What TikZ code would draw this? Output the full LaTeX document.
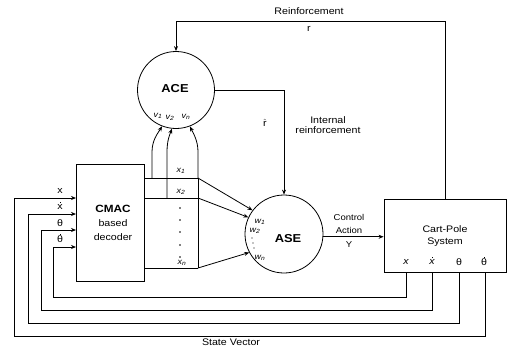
\documentclass[tikz,border=0pt]{standalone}
\usepackage{fontspec}
\setmainfont{Liberation Sans}[FakeStretch=1.12]
\usetikzlibrary{arrows.meta}
\newcommand\mydt[1]{\setbox0\hbox{#1}\hbox to \wd0{\hfil\raisebox{\dimexpr\ht0+1pt\relax}{\rule{1pt}{1pt}}\hfil}\kern-\wd0\box0}
\begin{document}
\begin{tikzpicture}[x=1pt,y=-1pt,line width=0.8pt,
  arr/.style={-{Stealth[length=5pt,width=4pt]}},
  lbl/.style={font=\fontsize{9.5}{11}\selectfont, inner sep=0pt, align=center},
  sml/.style={font=\fontsize{8.5}{13}\selectfont, inner sep=0pt, align=center},
  sub/.style={font=\fontsize{8}{9}\selectfont\itshape, inner sep=0pt},
  big/.style={font=\bfseries\fontsize{11.5}{12}\selectfont, inner sep=0pt},
  blk/.style={draw, inner sep=0pt},
  dotc/.style={fill, circle, inner sep=0pt, minimum size=1.6pt}]
\useasboundingbox (0,0) rectangle (508,348);

% main blocks
\node[blk, circle, minimum size=77pt] (ACE) at (176,90) {};
\node[big] (acet) at (175,89) {ACE};
\node[blk, circle, minimum size=78pt] (ASE) at (284,234) {};
\node[big] (aset) at (288,239) {ASE};
\node[blk, minimum width=68pt, minimum height=117pt] (dec) at (110,222.5) {};
\node[lbl, font=\fontsize{9.5}{14}\selectfont] (dect) at (113,223) {\textbf{\fontsize{10.5}{14}\selectfont CMAC}\\based\\decoder};
\node[blk, minimum width=122pt, minimum height=73pt] (cart) at (445,235.5) {};
\node[lbl, font=\fontsize{9.5}{12}\selectfont] (cartt) at (445,236) {Cart-Pole\\System};

% coordinates
\coordinate (rt) at (0,21);
\coordinate (in1) at (76,198);
\coordinate (in2) at (76,214);
\coordinate (in3) at (76,230);
\coordinate (in4) at (76,247);
\coordinate (o1) at (406,272);
\coordinate (o2) at (432,272);
\coordinate (o3) at (459,272);
\coordinate (o4) at (485,272);
\coordinate (c1) at (198,178);
\coordinate (c2) at (198,198);
\coordinate (cn) at (198,268);
\coordinate (a1) at (152,178);
\coordinate (a2) at (167,198);

% reinforcement
\draw[arr] (cart.north) -- (cart.north |- rt) -- (ACE.north |- rt) -- (ACE.north);
\node[lbl] (rein) at (309,11) {Reinforcement};
\node[lbl] (r) at (309,29) {r};

% internal reinforcement
\draw[arr] (ACE.east) -| (ASE.north);
\node[lbl] (rhat) at (265,123) {$\hat{\mbox{r}}$};
\node[lbl, font=\fontsize{9.5}{10.5}\selectfont] (intr) at (328,125) {Internal\\reinforcement};

% control action
\draw[arr] (ASE.-4) -- (ASE.-4 -| cart.west);
\node[sml] (ctl) at (349,223.5) {Control\\Action};
\node[sml] (yy) at (349,245) {Y};

% decoder outputs
\draw (dec.east |- c1) -- (c1);
\draw (dec.east |- c2) -- (c2);
\draw (dec.east |- cn) -- (cn);
\draw (c1) -- (cn);
\draw[arr] (c1) -- (ASE.143);
\draw[arr] (c2) -- (ASE.155);
\draw[arr] (cn) -- (ASE.208);
\foreach \yy in {208,220,232,245,257} \node[dotc] at (180,\yy) {};
\node[sub] (x1) at (181,171) {x\textsubscript{1}};
\node[sub] (x2) at (181,192) {x\textsubscript{2}};
\node[sub] (xn) at (182,263) {x\textsubscript{n}};

% into ACE
\draw[arr] (a1) -- (152,152) .. controls (152,140) and (158,133) .. (ACE.249);
\draw[arr] (a2) -- (167,152) .. controls (167,140) and (170,134) .. (ACE.264);
\draw[arr] (c1) -- (198,152) .. controls (198,140) and (193,133) .. (ACE.291);
\node[sub] (v1) at (158,116) {v\textsubscript{1}};
\node[sub] (v2) at (170,118) {v\textsubscript{2}};
\node[sub] (vn) at (186,117) {v\textsubscript{n}};

% weights
\node[sub] (w1) at (260,222) {w\textsubscript{1}};
\node[sub] (w2) at (255,231) {w\textsubscript{2}};
\foreach \p in {(252,238),(253,243),(254,248)} \node[dotc, minimum size=1.3pt] at \p {};
\node[sub] (wn) at (260,258) {w\textsubscript{n}};

% state feedback loops
\draw[arr] (o4) -- (485,336) -- (14,336) -- (14,198) -- (in1);
\draw[arr] (o3) -- (459,323) -- (28,323) -- (28,214) -- (in2);
\draw[arr] (o2) -- (432,310) -- (41,310) -- (41,230) -- (in3);
\draw[arr] (o1) -- (406,297) -- (53,297) -- (53,247) -- (in4);
\node[lbl] (lx) at (60,191) {x};
\node[lbl] (lxd) at (60,206) {\mydt{x}};
\node[lbl] (lt) at (60,223) {θ};
\node[lbl] (ltd) at (60,238) {\mydt{θ}};
\node[lbl] (ox) at (406,262) {\itshape x};
\node[lbl] (oxd) at (432,261) {\mydt{\itshape x}};
\node[lbl] (ot) at (459,262) {θ};
\node[lbl] (otd) at (484,261) {\mydt{θ}};
\node[lbl] (sv) at (231,342) {State Vector};
\end{tikzpicture}
\end{document}
